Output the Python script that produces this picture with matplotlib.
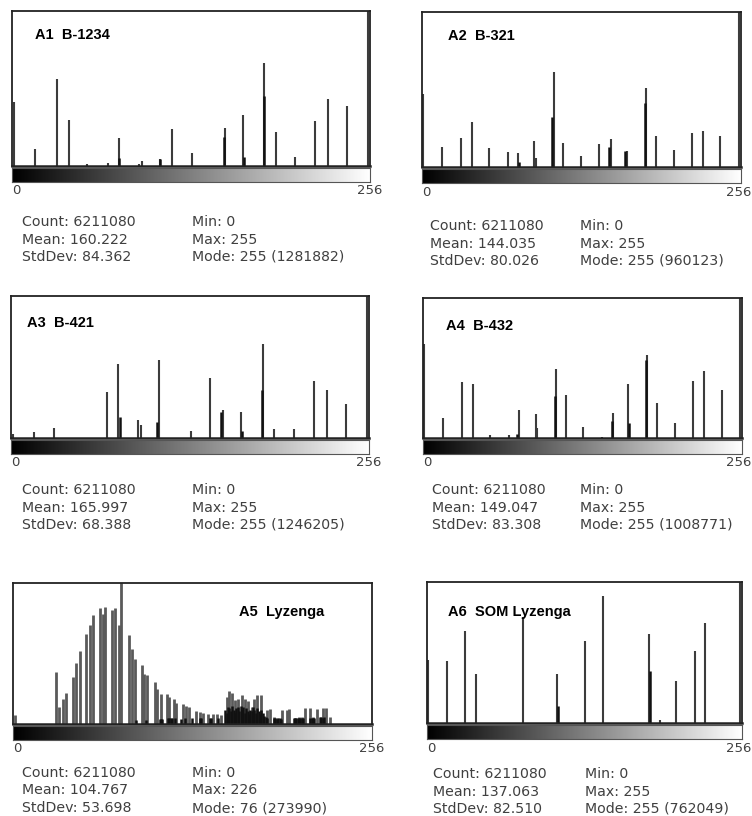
import numpy as np
import matplotlib
matplotlib.use("Agg")
import matplotlib.pyplot as plt

W, H = 752, 816

# Histogram spikes, heights relative to the plot frame (1.0 = top, taller ones are clipped)
a1_bins = [0, 15, 31, 40, 53, 68, 76, 90, 92, 105, 114, 128, 152, 165, 180, 189, 202, 217, 226, 240, 255]
a1_vals = [0.41, 0.11, 0.56, 0.30, 0.01, 0.02, 0.18, 0.015, 0.03, 0.045, 0.24, 0.085, 0.245, 0.33, 0.665, 0.22, 0.06, 0.29, 0.43, 0.39, 1.2]
a1_dark_bins = [76, 105, 151, 166, 180]
a1_dark_vals = [0.05, 0.045, 0.19, 0.06, 0.45]

a2_bins = [0, 15, 30, 39, 53, 68, 76, 89, 91, 105, 113, 127, 142, 151, 164, 180, 188, 202, 217, 226, 239, 255]
a2_vals = [0.47, 0.13, 0.19, 0.29, 0.125, 0.10, 0.09, 0.17, 0.06, 0.61, 0.155, 0.07, 0.15, 0.18, 0.105, 0.51, 0.20, 0.11, 0.22, 0.23, 0.20, 1.2]
a2_dark_bins = [77, 104, 150, 163, 179]
a2_dark_vals = [0.03, 0.32, 0.13, 0.105, 0.41]

a3_bins = [0, 15, 30, 68, 76, 90, 92, 105, 128, 142, 151, 164, 180, 188, 202, 217, 226, 240, 255]
a3_vals = [0.025, 0.04, 0.07, 0.325, 0.52, 0.125, 0.09, 0.55, 0.05, 0.42, 0.20, 0.18, 0.66, 0.06, 0.06, 0.40, 0.34, 0.24, 1.2]
a3_dark_bins = [77, 104, 150, 165, 179]
a3_dark_vals = [0.15, 0.11, 0.18, 0.05, 0.34]

a4_bins = [0, 15, 30, 39, 53, 68, 76, 90, 91, 106, 114, 128, 143, 152, 164, 180, 188, 202, 217, 226, 240, 255]
a4_vals = [0.67, 0.14, 0.40, 0.385, 0.02, 0.02, 0.20, 0.17, 0.07, 0.49, 0.31, 0.08, 0.007, 0.18, 0.385, 0.59, 0.25, 0.11, 0.41, 0.48, 0.34, 1.2]
a4_dark_bins = [75, 105, 151, 165, 179]
a4_dark_vals = [0.03, 0.30, 0.12, 0.11, 0.56]

a5_bins = [0, 30, 32, 35, 37, 42, 44, 47, 51, 54, 56, 61, 63, 65, 70, 72, 75, 76, 82, 84, 86, 91, 93, 95,
           101, 102, 105, 109, 111, 114, 116, 121, 123, 125, 130, 133, 135, 139, 142, 145, 148,
           152, 154, 156, 158, 160, 163, 165, 167, 170, 172, 174, 177, 181, 183, 186, 188,
           192, 195, 197, 201, 204, 206, 208, 212, 214, 217, 221, 223, 226]
a5_vals = [0.064, 0.37, 0.12, 0.18, 0.22, 0.335, 0.43, 0.52, 0.64, 0.70, 0.77, 0.82, 0.78, 0.83, 0.81, 0.82, 0.70, 1.2, 0.63, 0.53, 0.46, 0.415, 0.355, 0.35,
           0.30, 0.245, 0.215, 0.21, 0.19, 0.18, 0.15, 0.14, 0.128, 0.12, 0.09, 0.088, 0.08, 0.07, 0.07, 0.07, 0.065,
           0.19, 0.235, 0.22, 0.17, 0.18, 0.205, 0.18, 0.16, 0.12, 0.18, 0.205, 0.205, 0.10, 0.105, 0.05, 0.045,
           0.10, 0.10, 0.105, 0.045, 0.05, 0.05, 0.11, 0.11, 0.05, 0.105, 0.11, 0.115, 0.05]
a5_dark_bins = [87, 94, 104, 105, 106, 110, 111, 112, 113, 115, 119, 122, 127, 133, 134, 140, 141, 146,
                151, 152, 153, 154, 155, 156, 157, 158, 159, 160, 161, 162, 163, 164, 165, 166, 167, 168,
                169, 170, 171, 172, 173, 174, 175, 176, 177, 178, 179, 180, 181,
                186, 187, 188, 189, 190, 191, 200, 201, 202, 203, 204, 205, 206, 207, 212, 213, 214, 215,
                219, 220, 221, 222]
a5_dark_vals = [0.025, 0.025, 0.035, 0.035, 0.035, 0.04, 0.04, 0.04, 0.04, 0.04, 0.035, 0.04, 0.04, 0.04, 0.04, 0.04, 0.04, 0.04,
                0.10, 0.08, 0.12, 0.11, 0.09, 0.13, 0.10, 0.08, 0.11, 0.12, 0.09, 0.13, 0.10, 0.12, 0.08, 0.11, 0.09, 0.07,
                0.10, 0.09, 0.12, 0.10, 0.08, 0.11, 0.09, 0.07, 0.10, 0.08, 0.06, 0.05, 0.04,
                0.04, 0.04, 0.035, 0.04, 0.04, 0.035, 0.045, 0.045, 0.04, 0.045, 0.045, 0.04, 0.045, 0.045, 0.045, 0.045, 0.04, 0.045,
                0.05, 0.05, 0.045, 0.05]

a6_bins = [0, 15, 30, 39, 77, 105, 128, 143, 180, 189, 202, 218, 226, 255]
a6_vals = [0.45, 0.44, 0.65, 0.35, 0.75, 0.35, 0.58, 0.90, 0.63, 0.02, 0.30, 0.51, 0.71, 1.2]
a6_dark_bins = [106, 181]
a6_dark_vals = [0.12, 0.37]

titles = ["A1  B-1234", "A2  B-321", "A3  B-421", "A4  B-432", "A5  Lyzenga", "A6  SOM Lyzenga"]
means = ["160.222", "144.035", "165.997", "149.047", "104.767", "137.063"]
stddevs = ["84.362", "80.026", "68.388", "83.308", "53.698", "82.510"]
maxes = ["255", "255", "255", "255", "226", "255"]
modes = ["255 (1281882)", "255 (960123)", "255 (1246205)", "255 (1008771)", "76 (273990)", "255 (762049)"]
count = "6211080"

panels = [
    (a1_bins, a1_vals, a1_dark_bins, a1_dark_vals),
    (a2_bins, a2_vals, a2_dark_bins, a2_dark_vals),
    (a3_bins, a3_vals, a3_dark_bins, a3_dark_vals),
    (a4_bins, a4_vals, a4_dark_bins, a4_dark_vals),
    (a5_bins, a5_vals, a5_dark_bins, a5_dark_vals),
    (a6_bins, a6_vals, a6_dark_bins, a6_dark_vals),
]

# frame boxes in pixels: left, top, right, bottom
frames = [(12, 11, 370, 166), (422, 12, 741, 167),
          (11, 296, 369, 438), (423, 298, 742, 438),
          (13, 583, 372, 724), (427, 582, 742, 723)]
title_pos = [(35, 35), (448, 36), (27, 323), (446, 326), (239, 612), (448, 612)]
stat_x = [(22, 192), (430, 580), (22, 192), (432, 580), (22, 192), (433, 585)]
stat_y = [222, 226, 490, 490, 773, 774]

fig = plt.figure(figsize=(W / 100, H / 100), dpi=100)
txt = "#404040"
gradient = np.linspace(0, 1, 256)[None, :]


def px_axes(l, t, r, b):
    return fig.add_axes([l / W, 1 - b / H, (r - l) / W, (b - t) / H])


for i, (bins, vals, dbins, dvals) in enumerate(panels):
    l, t, r, b = frames[i]
    ax = px_axes(l, t, r, b)
    if i == 4:
        ax.vlines(bins, 0, vals, color="#5a5a5a", lw=2.0)
    else:
        ax.vlines(bins, 0, vals, color="#3c3c3c", lw=1.5)
    ax.vlines(dbins, 0, dvals, color="#111111", lw=1.8)
    ax.set_xlim(-1.2, 256.3)
    ax.set_ylim(0, 1)
    ax.set_xticks([])
    ax.set_yticks([])
    for s in ax.spines.values():
        s.set_linewidth(1.3)
        s.set_color("#222222")
    ax.spines["bottom"].set_linewidth(1.8)

    # grey ramp under the plot
    gx = px_axes(l, b + 2, r, b + 16)
    gx.imshow(gradient, cmap="gray", aspect="auto", extent=[0, 256, 0, 1])
    gx.set_xticks([])
    gx.set_yticks([])
    for s in gx.spines.values():
        s.set_linewidth(0.8)
        s.set_color("#555555")

    fig.text(l / W, 1 - (b + 25) / H, "0", fontsize=9.5, color=txt, va="center", ha="left")
    fig.text(min(r + 12, 751) / W, 1 - (b + 25) / H, "256", fontsize=9.5, color=txt, va="center", ha="right")

    tx, ty = title_pos[i]
    fig.text(tx / W, 1 - ty / H, titles[i], fontsize=10.5, fontweight="bold",
             family="Liberation Sans", va="center", ha="left")

    x1, x2 = stat_x[i]
    y0 = stat_y[i]
    left_lines = ["Count: " + count, "Mean: " + means[i], "StdDev: " + stddevs[i]]
    right_lines = ["Min: 0", "Max: " + maxes[i], "Mode: " + modes[i]]
    for k in range(3):
        yy = 1 - (y0 + 17.5 * k) / H
        fig.text(x1 / W, yy, left_lines[k], fontsize=10.2, color=txt, va="center", ha="left")
        fig.text(x2 / W, yy, right_lines[k], fontsize=10.2, color=txt, va="center", ha="left")

fig.savefig("out.png", dpi=100)
